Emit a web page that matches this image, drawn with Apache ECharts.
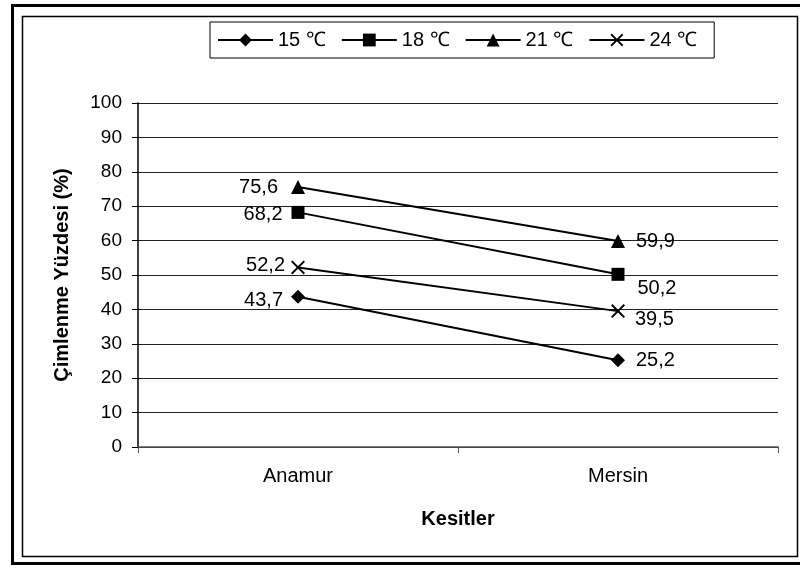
<!DOCTYPE html>
<html>
<head>
<meta charset="utf-8">
<script src="https://cdn.jsdelivr.net/npm/echarts@6/dist/echarts.min.js"></script>
<style>
  html, body { margin: 0; padding: 0; background: #fff; }
  #chart { width: 800px; height: 570px; }
</style>
</head>
<body>
<div id="chart"></div>
<script>
// Germination percentage by location for four temperatures
const categories = ['Anamur', 'Mersin'];
const seriesNames = ['15 ℃', '18 ℃', '21 ℃', '24 ℃'];
const values15 = [43.7, 25.2];
const values18 = [68.2, 50.2];
const values21 = [75.6, 59.9];
const values24 = [52.2, 39.5];
const yTicks = [0, 10, 20, 30, 40, 50, 60, 70, 80, 90, 100];

const FONT = '"Liberation Sans", Arial, sans-serif';
const crossPath = 'path://M0,1L1,0L5,4L9,0L10,1L6,5L10,9L9,10L5,6L1,10L0,9L4,5Z';

// marker shape and size per series
const markers = [
  { symbol: 'path://M5,0L10,5L5,10L0,5Z', size: 14 },
  { symbol: 'rect', size: 13 },
  { symbol: 'triangle', size: 14 },
  { symbol: crossPath, size: 14 }
];
// value label placement per series: [left point, right point]
const labelGap = [[8, 11], [9, 13], [13, 11], [6, 10]];
const labelNudge = [[4, 0], [2, 14], [1, 1], [-2, 8]];

const allValues = [values15, values18, values21, values24];
const fmt = v => v.toFixed(1).replace('.', ',');

const series = allValues.map((vals, si) => ({
  name: seriesNames[si],
  type: 'line',
  symbol: markers[si].symbol,
  symbolSize: markers[si].size,
  lineStyle: { color: '#000', width: 2 },
  itemStyle: { color: '#000' },
  z: 5,
  data: vals.map((v, i) => ({
    value: v,
    label: {
      show: true,
      position: i === 0 ? 'left' : 'right',
      distance: labelGap[si][i],
      offset: [0, labelNudge[si][i]],
      formatter: () => fmt(v),
      color: '#000',
      fontFamily: FONT,
      fontSize: 20
    }
  }))
}));

const chart = echarts.init(document.getElementById('chart'), null, { renderer: 'canvas' });
chart.setOption({
  animation: false,
  backgroundColor: '#fff',
  graphic: [
    {
      type: 'rect', z: 100, silent: true,
      shape: { x: 12.5, y: 5.5, width: 800, height: 558 },
      style: { fill: 'none', stroke: '#000', lineWidth: 3 }
    },
    {
      type: 'rect', z: 100, silent: true,
      shape: { x: 22.5, y: 16.5, width: 775, height: 540 },
      style: { fill: 'none', stroke: '#000', lineWidth: 1.5 }
    }
  ],
  legend: {
    data: seriesNames,
    left: 210,
    top: 22,
    itemWidth: 55,
    itemHeight: 16,
    itemGap: 15,
    padding: [8, 17, 8, 7],
    borderColor: '#000',
    borderWidth: 1,
    textStyle: { fontFamily: FONT, fontSize: 20, color: '#000' }
  },
  grid: { left: 138, right: 22, top: 103, bottom: 123, containLabel: false },
  xAxis: {
    type: 'category',
    data: categories,
    boundaryGap: true,
    name: 'Kesitler',
    nameLocation: 'middle',
    nameGap: 62,
    nameTextStyle: { fontFamily: FONT, fontSize: 20, fontWeight: 'bold', color: '#000' },
    axisLine: { lineStyle: { color: '#555', width: 1.5 } },
    axisTick: { show: true, length: 6, lineStyle: { color: '#555' } },
    axisLabel: { fontFamily: FONT, fontSize: 20, color: '#000', margin: 19 }
  },
  yAxis: {
    type: 'value',
    min: yTicks[0],
    max: yTicks[yTicks.length - 1],
    interval: yTicks[1] - yTicks[0],
    name: 'Çimlenme Yüzdesi (%)',
    nameLocation: 'middle',
    nameGap: 66,
    nameTextStyle: { fontFamily: FONT, fontSize: 20, fontWeight: 'bold', color: '#000' },
    axisLine: { show: true, lineStyle: { color: '#000', width: 1.5 } },
    axisTick: { show: true, length: 6, lineStyle: { color: '#000' } },
    axisLabel: { fontFamily: FONT, fontSize: 19, color: '#000', margin: 16 },
    splitLine: { show: true, lineStyle: { color: '#222', width: 1 } }
  },
  series: series
});
</script>
</body>
</html>
